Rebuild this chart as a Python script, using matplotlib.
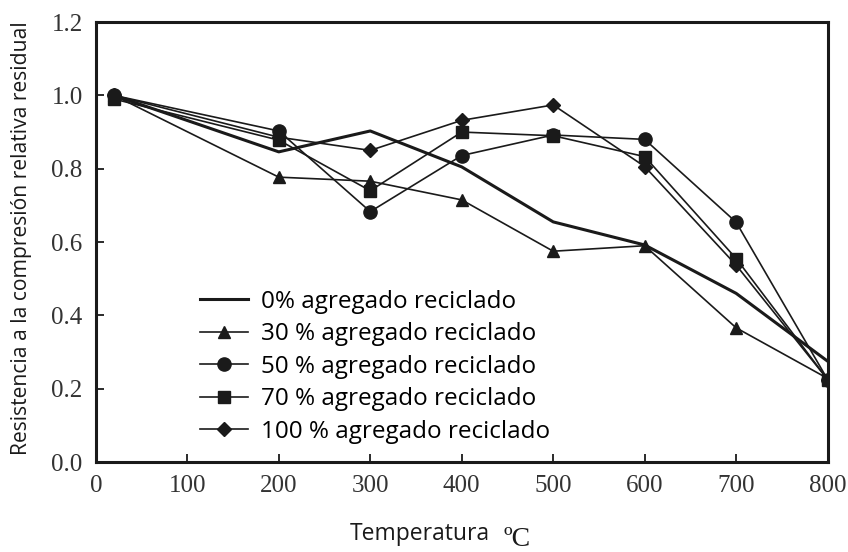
import matplotlib
matplotlib.use("Agg")
import matplotlib.pyplot as plt
import numpy as np

# temperaturas de ensayo (ºC)
temperatura = [20, 200, 300, 400, 500, 600, 700, 800]

# resistencia relativa residual para cada porcentaje de agregado reciclado
r_0 = [1.00, 0.846, 0.903, 0.805, 0.655, 0.592, 0.46, 0.275]
r_30 = [1.00, 0.777, 0.766, 0.715, 0.575, 0.590, 0.366, 0.228]
r_50 = [1.00, 0.903, 0.683, 0.836, 0.892, 0.880, 0.654, 0.225]
r_70 = [0.99, 0.878, 0.740, 0.900, 0.890, 0.833, 0.555, 0.225]
r_100 = [1.00, 0.886, 0.850, 0.932, 0.974, 0.806, 0.537, 0.225]

etiquetas = ['0% agregado reciclado', '30 % agregado reciclado',
             '50 % agregado reciclado', '70 % agregado reciclado',
             '100 % agregado reciclado']

color = '#1a1a1a'
sans = 'Open Sans'
serif = 'Liberation Serif'

fig = plt.figure(figsize=(8.48, 5.52), dpi=100)
ax = fig.add_axes([0.113, 0.163, 0.863, 0.797])

ax.plot(temperatura, r_0, color=color, lw=2.2, label=etiquetas[0])
ax.plot(temperatura, r_30, color=color, lw=1.2, marker='^', ms=9, label=etiquetas[1])
ax.plot(temperatura, r_50, color=color, lw=1.2, marker='o', ms=9.5, label=etiquetas[2])
ax.plot(temperatura, r_70, color=color, lw=1.2, marker='s', ms=8, label=etiquetas[3])
ax.plot(temperatura, r_100, color=color, lw=1.2, marker='D', ms=7, label=etiquetas[4])

ax.set_xlim(0, 800)
ax.set_ylim(0.0, 1.2)
ax.set_xticks(np.arange(0, 801, 100))
ax.set_yticks(np.arange(0, 1.21, 0.2))
ax.set_yticklabels([f'{v:.1f}' for v in np.arange(0, 1.21, 0.2)])

for s in ax.spines.values():
    s.set_linewidth(2.2)
    s.set_color(color)
ax.tick_params(direction='in', length=6, width=1.3, colors=color, labelsize=18, pad=9.5)
for t in ax.get_xticklabels() + ax.get_yticklabels():
    t.set_family(serif)
    t.set_color('#333333')

# etiqueta del eje x: texto y unidad en tipos distintos
fig.text(350 / 848, 1 - 540 / 552, 'Temperatura', family=sans, fontsize=16.5,
         ha='left', va='baseline', color=color)
fig.text(503 / 848, 1 - 546 / 552, 'ºC', family=serif, fontsize=20,
         ha='left', va='baseline', color=color)

ax.set_ylabel('Resistencia a la compresión relativa residual', family=sans,
              fontsize=15.2, labelpad=14, color=color)
ax.yaxis.label.set_y(0.51)

ax.legend(loc='upper left', bbox_to_anchor=(0.142, 0.392), frameon=False,
          prop={'family': sans, 'size': 17.5}, handlelength=2.0,
          labelspacing=0.35, handletextpad=0.5, borderaxespad=0, borderpad=0)

fig.savefig('out.png', dpi=100)
